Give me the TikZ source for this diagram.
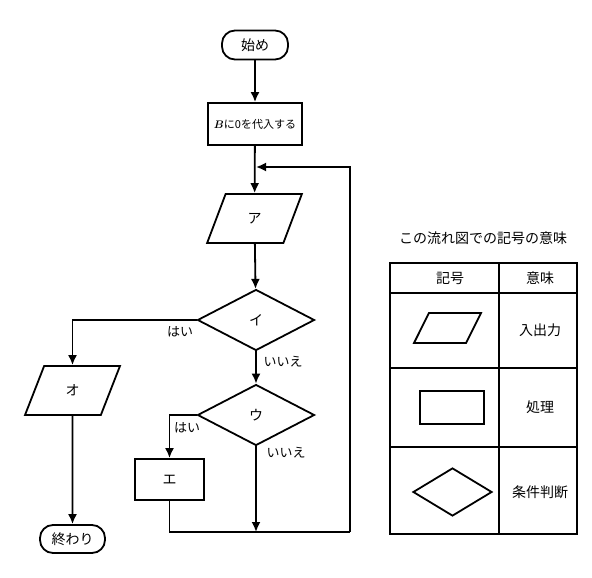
\documentclass[tikz,border=0pt]{standalone}
\usepackage{fontspec}
\setmainfont{Noto Sans CJK JP}
\usepackage{tikz}
\usetikzlibrary{shapes.geometric,arrows.meta}

\tikzset{
  box/.style={draw,line width=1.8pt,rectangle,inner sep=1pt},
  term/.style={box,rounded corners=13pt},
  io/.style={draw,line width=1.8pt,trapezium,trapezium left angle=68,trapezium right angle=112,trapezium stretches=true,inner sep=1pt},
  test/.style={draw,line width=1.8pt,diamond,inner sep=1pt},
  line/.style={line width=1.8pt},
  arr/.style={line width=1.8pt,-{Latex[length=10pt,width=9pt]}},
  txt/.style={font=\fontsize{14}{16}\selectfont},
  lbl/.style={font=\fontsize{13}{15}\selectfont,inner sep=0pt}
}

\begin{document}
\begin{tikzpicture}[x=1pt,y=-1pt]
\useasboundingbox (0,0) rectangle (592,578);

\node[term,txt,minimum width=66pt,minimum height=29pt] (start) at (255,45) {始め};
\node[box,font=\fontsize{11}{13}\selectfont,minimum width=94pt,minimum height=42pt] (init) at (255,124) {{\boldmath$B$}に0を代入する};
\node[io,txt,minimum width=95pt,minimum height=49pt] (a) at (254.5,218.5) {ア};
\node[test,txt,minimum width=117pt,minimum height=61pt] (i) at (256,320) {イ};
\node[test,txt,minimum width=117pt,minimum height=61pt] (u) at (256,415) {ウ};
\node[io,txt,minimum width=95pt,minimum height=49pt] (o) at (72.5,390.5) {オ};
\node[box,txt,minimum width=69pt,minimum height=41pt] (e) at (169.5,479.5) {エ};
\node[term,txt,minimum width=65pt,minimum height=28pt] (end) at (72.5,539) {終わり};

\coordinate (back) at (256,167);
\coordinate (join) at (256,532);
\coordinate (corner) at (350,532);

\draw[arr] (start) -- (init);
\draw[arr] (init) -- (a);
\draw[arr] (a) -- (i);
\draw[arr] (i) -- (u);
\draw[arr] (i.west) -| (o.north);
\draw[arr] (u.west) -| (e.north);
\draw[arr] (u) -- (join);
\draw[line] (e.south) |- (corner);
\draw[arr] (corner) |- (back);
\draw[arr] (o.south) -- (end);

\node[lbl] (iyes) at (180,332) {はい};
\node[lbl] (ino) at (283,362) {いいえ};
\node[lbl] (uyes) at (187,428) {はい};
\node[lbl] (uno) at (286,453) {いいえ};

\node[txt] (title) at (483,238) {この流れ図での記号の意味};
\draw[line] (390,263) rectangle (577,534);
\draw[line] (499,263) -- (499,534);
\draw[line] (390,293) -- (577,293);
\draw[line] (390,368) -- (577,368);
\draw[line] (390,447) -- (577,447);
\node[txt] (hsym) at (450,278) {記号};
\node[txt] (hmean) at (540,278) {意味};
\node[io,minimum width=67pt,minimum height=30pt] (kio) at (447.5,328) {};
\node[txt] (mio) at (540,330) {入出力};
\node[box,minimum width=64pt,minimum height=33pt] (kbox) at (452,407.5) {};
\node[txt] (mbox) at (540,407) {処理};
\node[test,minimum width=79pt,minimum height=48pt] (ktest) at (452.5,492) {};
\node[txt] (mtest) at (540,492) {条件判断};
\end{tikzpicture}
\end{document}
